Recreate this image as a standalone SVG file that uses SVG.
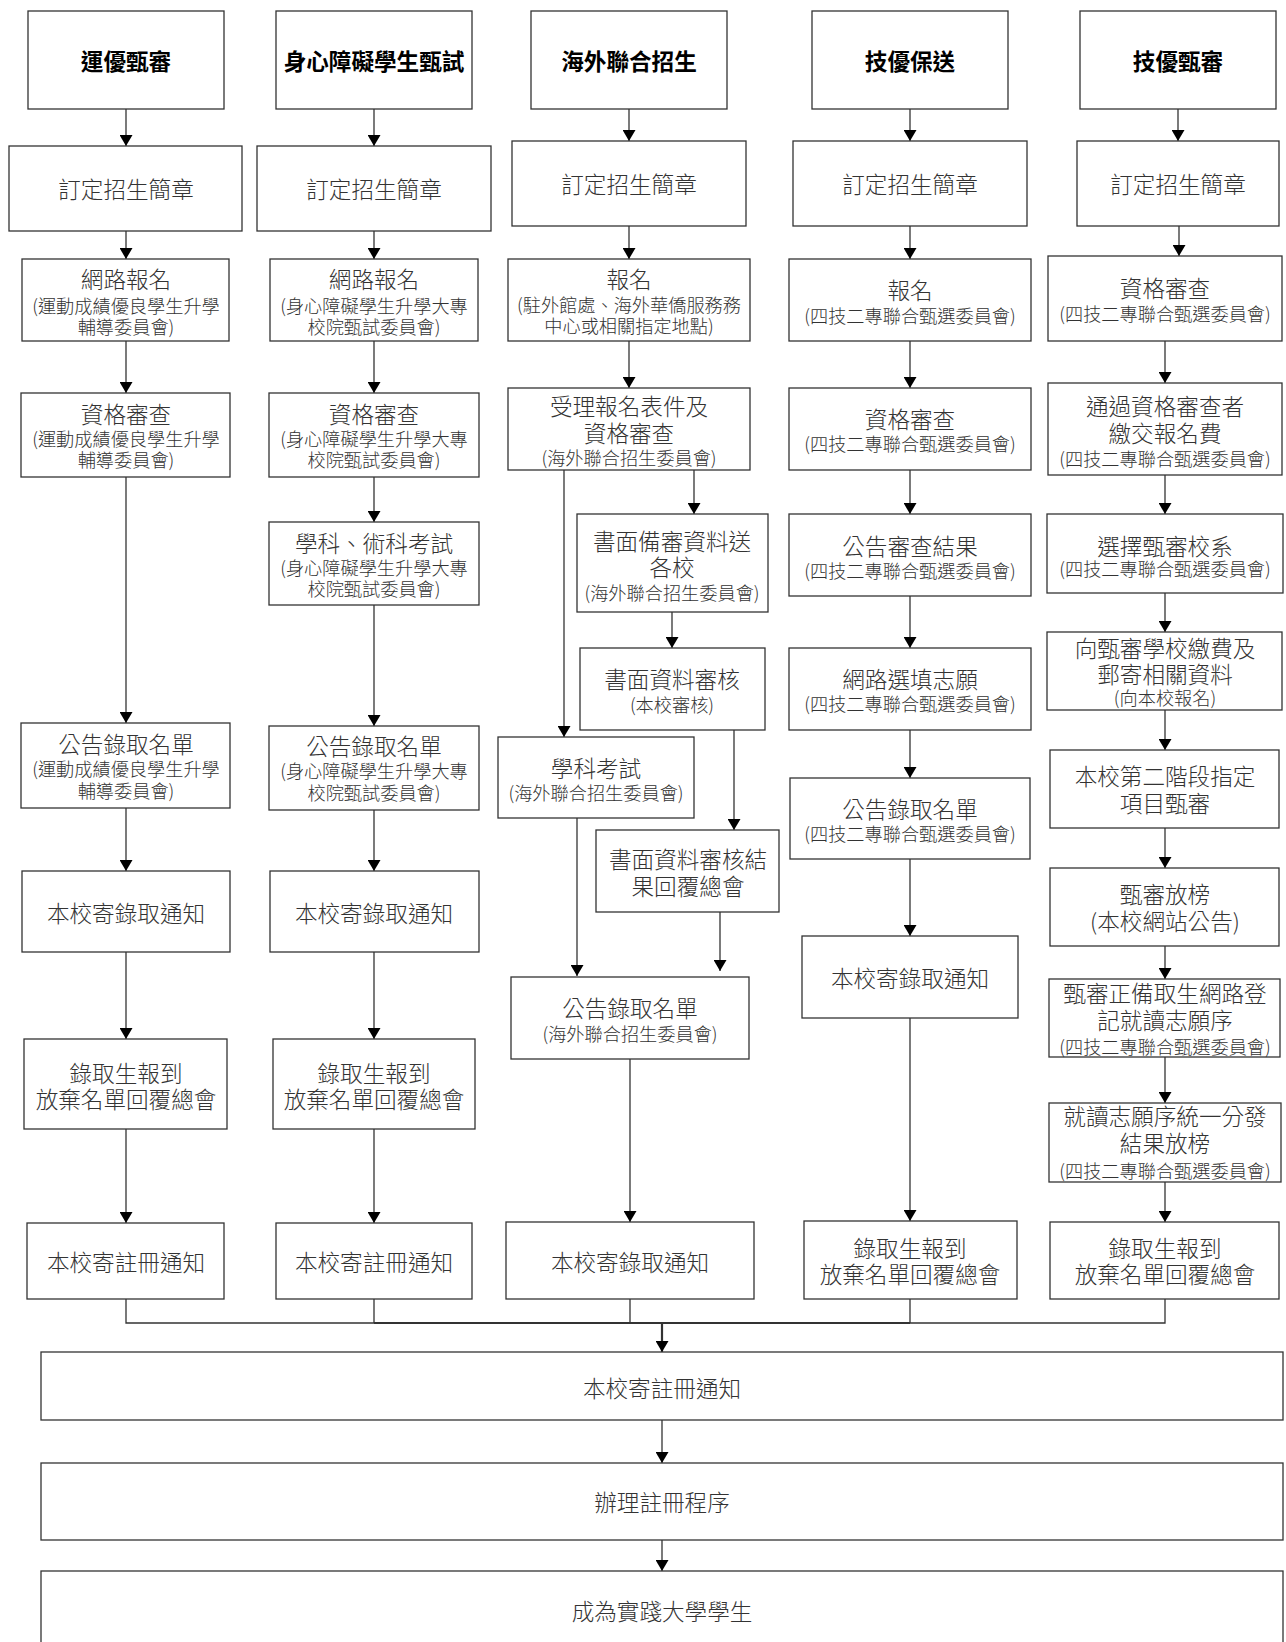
<svg xmlns="http://www.w3.org/2000/svg" width="1286" height="1642" viewBox="0 0 1286 1642">
  <style>
    .box { fill: #fff; stroke: #333; stroke-width: 1.3; }
    .t { font-family: "Noto Sans CJK TC", "Noto Sans CJK SC", sans-serif; font-size: 22.6px; font-weight: 300; fill: #333; text-anchor: middle; dominant-baseline: central; }
    .s { font-size: 18.2px; }
    .h { font-weight: bold; fill: #000; }
    .ln { fill: none; stroke: #333; stroke-width: 1.3; }
    .thk { stroke-width: 2.2; }
  </style>
  <defs>
    <marker id="arr" markerUnits="userSpaceOnUse" viewBox="0 0 11 13" refX="11" refY="6.5" markerWidth="11" markerHeight="13" orient="auto">
      <path d="M0,0 L11,6.5 L0,13 z" fill="#000"/>
    </marker>
  </defs>

  <rect width="1286" height="1642" fill="#fff"/>

  <!-- connectors -->
  <g id="connectors">
    <!-- column 1 -->
    <path class="ln" marker-end="url(#arr)" d="M126,109 V146"/>
    <path class="ln" marker-end="url(#arr)" d="M126,231 V259"/>
    <path class="ln" marker-end="url(#arr)" d="M126,341 V393"/>
    <path class="ln" marker-end="url(#arr)" d="M126,477 V723"/>
    <path class="ln" marker-end="url(#arr)" d="M126,808 V871"/>
    <path class="ln" marker-end="url(#arr)" d="M126,952 V1039"/>
    <path class="ln" marker-end="url(#arr)" d="M126,1129 V1223"/>
    <!-- column 2 -->
    <path class="ln" marker-end="url(#arr)" d="M374,109 V146"/>
    <path class="ln" marker-end="url(#arr)" d="M374,231 V259"/>
    <path class="ln" marker-end="url(#arr)" d="M374,341 V393"/>
    <path class="ln" marker-end="url(#arr)" d="M374,477 V522"/>
    <path class="ln" marker-end="url(#arr)" d="M374,605 V726"/>
    <path class="ln" marker-end="url(#arr)" d="M374,810 V871"/>
    <path class="ln" marker-end="url(#arr)" d="M374,952 V1039"/>
    <path class="ln" marker-end="url(#arr)" d="M374,1129 V1223"/>
    <!-- column 3 -->
    <path class="ln" marker-end="url(#arr)" d="M629,109 V141"/>
    <path class="ln" marker-end="url(#arr)" d="M629,226 V259"/>
    <path class="ln" marker-end="url(#arr)" d="M629,341 V388"/>
    <path class="ln" marker-end="url(#arr)" d="M564,470 V737"/>
    <path class="ln" marker-end="url(#arr)" d="M694,470 V514"/>
    <path class="ln" marker-end="url(#arr)" d="M672,612 V648"/>
    <path class="ln" marker-end="url(#arr)" d="M734,730 V830"/>
    <path class="ln" marker-end="url(#arr)" d="M577,818 V976"/>
    <path class="ln" marker-end="url(#arr)" d="M720,912 V971"/>
    <path class="ln" marker-end="url(#arr)" d="M630,1059 V1222"/>
    <!-- column 4 -->
    <path class="ln" marker-end="url(#arr)" d="M910,109 V141"/>
    <path class="ln" marker-end="url(#arr)" d="M910,226 V259"/>
    <path class="ln" marker-end="url(#arr)" d="M910,341 V388"/>
    <path class="ln" marker-end="url(#arr)" d="M910,470 V514"/>
    <path class="ln" marker-end="url(#arr)" d="M910,596 V648"/>
    <path class="ln" marker-end="url(#arr)" d="M910,730 V778"/>
    <path class="ln" marker-end="url(#arr)" d="M910,859 V936"/>
    <path class="ln" marker-end="url(#arr)" d="M910,1018 V1221"/>
    <!-- column 5 -->
    <path class="ln" marker-end="url(#arr)" d="M1178,109 V141"/>
    <path class="ln" marker-end="url(#arr)" d="M1179,226 V256"/>
    <path class="ln" marker-end="url(#arr)" d="M1165,341 V383"/>
    <path class="ln" marker-end="url(#arr)" d="M1165,475 V514"/>
    <path class="ln" marker-end="url(#arr)" d="M1165,593 V632"/>
    <path class="ln" marker-end="url(#arr)" d="M1165,710 V750"/>
    <path class="ln" marker-end="url(#arr)" d="M1165,828 V868"/>
    <path class="ln" marker-end="url(#arr)" d="M1165,946 V979"/>
    <path class="ln" marker-end="url(#arr)" d="M1165,1057 V1103"/>
    <path class="ln" marker-end="url(#arr)" d="M1165,1182 V1222"/>
    <!-- merge of the five columns -->
    <path class="ln" d="M126,1299 V1323 H1165 V1299"/>
    <path class="ln" d="M374,1299 V1323 M630,1299 V1323 M910,1299 V1323"/>
    <path class="ln thk" d="M374,1323 H910"/>
    <path class="ln thk" marker-end="url(#arr)" d="M662,1323 V1352"/>
    <path class="ln" marker-end="url(#arr)" d="M662,1420 V1463"/>
    <path class="ln" marker-end="url(#arr)" d="M662,1540 V1571"/>
  </g>

  <!-- column 1: 運優甄審 -->
  <g id="c1-title"><rect class="box" x="28" y="11" width="196" height="98"/><text class="t h" x="126" y="60">運優甄審</text></g>
  <g id="c1-rules"><rect class="box" x="9" y="146" width="233" height="85"/><text class="t" x="126" y="188">訂定招生簡章</text></g>
  <g id="c1-apply"><rect class="box" x="22" y="259" width="207" height="82"/>
    <text class="t"><tspan x="126" y="278">網路報名</tspan><tspan class="s" x="126" y="305">(運動成績優良學生升學</tspan><tspan class="s" x="126" y="326">輔導委員會)</tspan></text></g>
  <g id="c1-check"><rect class="box" x="21" y="393" width="209" height="84"/>
    <text class="t"><tspan x="126" y="413">資格審查</tspan><tspan class="s" x="126" y="438">(運動成績優良學生升學</tspan><tspan class="s" x="126" y="459">輔導委員會)</tspan></text></g>
  <g id="c1-list"><rect class="box" x="21" y="723" width="209" height="85"/>
    <text class="t"><tspan x="126" y="743">公告錄取名單</tspan><tspan class="s" x="126" y="768">(運動成績優良學生升學</tspan><tspan class="s" x="126" y="790">輔導委員會)</tspan></text></g>
  <g id="c1-notice"><rect class="box" x="22" y="871" width="208" height="81"/><text class="t" x="126" y="912">本校寄錄取通知</text></g>
  <g id="c1-report"><rect class="box" x="24" y="1039" width="203" height="90"/>
    <text class="t"><tspan x="126" y="1072">錄取生報到</tspan><tspan x="126" y="1098">放棄名單回覆總會</tspan></text></g>
  <g id="c1-register"><rect class="box" x="27" y="1223" width="197" height="76"/><text class="t" x="126" y="1261">本校寄註冊通知</text></g>

  <!-- column 2: 身心障礙學生甄試 -->
  <g id="c2-title"><rect class="box" x="276" y="11" width="196" height="98"/><text class="t h" x="374" y="60">身心障礙學生甄試</text></g>
  <g id="c2-rules"><rect class="box" x="257" y="146" width="234" height="85"/><text class="t" x="374" y="188">訂定招生簡章</text></g>
  <g id="c2-apply"><rect class="box" x="270" y="259" width="208" height="82"/>
    <text class="t"><tspan x="374" y="278">網路報名</tspan><tspan class="s" x="374" y="305">(身心障礙學生升學大專</tspan><tspan class="s" x="374" y="326">校院甄試委員會)</tspan></text></g>
  <g id="c2-check"><rect class="box" x="269" y="393" width="210" height="84"/>
    <text class="t"><tspan x="374" y="413">資格審查</tspan><tspan class="s" x="374" y="438">(身心障礙學生升學大專</tspan><tspan class="s" x="374" y="459">校院甄試委員會)</tspan></text></g>
  <g id="c2-exam"><rect class="box" x="269" y="522" width="210" height="83"/>
    <text class="t"><tspan x="374" y="542">學科、術科考試</tspan><tspan class="s" x="374" y="567">(身心障礙學生升學大專</tspan><tspan class="s" x="374" y="588">校院甄試委員會)</tspan></text></g>
  <g id="c2-list"><rect class="box" x="269" y="726" width="210" height="84"/>
    <text class="t"><tspan x="374" y="745">公告錄取名單</tspan><tspan class="s" x="374" y="770">(身心障礙學生升學大專</tspan><tspan class="s" x="374" y="792">校院甄試委員會)</tspan></text></g>
  <g id="c2-notice"><rect class="box" x="270" y="871" width="209" height="81"/><text class="t" x="374" y="912">本校寄錄取通知</text></g>
  <g id="c2-report"><rect class="box" x="273" y="1039" width="202" height="90"/>
    <text class="t"><tspan x="374" y="1072">錄取生報到</tspan><tspan x="374" y="1098">放棄名單回覆總會</tspan></text></g>
  <g id="c2-register"><rect class="box" x="276" y="1223" width="196" height="76"/><text class="t" x="374" y="1261">本校寄註冊通知</text></g>

  <!-- column 3: 海外聯合招生 -->
  <g id="c3-title"><rect class="box" x="531" y="11" width="196" height="98"/><text class="t h" x="629" y="60">海外聯合招生</text></g>
  <g id="c3-rules"><rect class="box" x="512" y="141" width="234" height="85"/><text class="t" x="629" y="183">訂定招生簡章</text></g>
  <g id="c3-apply"><rect class="box" x="508" y="259" width="242" height="82"/>
    <text class="t"><tspan x="629" y="278">報名</tspan><tspan class="s" x="629" y="304">(駐外館處、海外華僑服務務</tspan><tspan class="s" x="629" y="325">中心或相關指定地點)</tspan></text></g>
  <g id="c3-accept"><rect class="box" x="508" y="388" width="242" height="82"/>
    <text class="t"><tspan x="629" y="405">受理報名表件及</tspan><tspan x="629" y="432">資格審查</tspan><tspan class="s" x="629" y="457">(海外聯合招生委員會)</tspan></text></g>
  <g id="c3-send"><rect class="box" x="577" y="514" width="191" height="98"/>
    <text class="t"><tspan x="672" y="540">書面備審資料送</tspan><tspan x="672" y="566">各校</tspan><tspan class="s" x="672" y="592">(海外聯合招生委員會)</tspan></text></g>
  <g id="c3-review"><rect class="box" x="580" y="648" width="185" height="82"/>
    <text class="t"><tspan x="672" y="678">書面資料審核</tspan><tspan class="s" x="672" y="704">(本校審核)</tspan></text></g>
  <g id="c3-exam"><rect class="box" x="498" y="737" width="196" height="81"/>
    <text class="t"><tspan x="596" y="767">學科考試</tspan><tspan class="s" x="596" y="792">(海外聯合招生委員會)</tspan></text></g>
  <g id="c3-result"><rect class="box" x="596" y="830" width="183" height="82"/>
    <text class="t"><tspan x="688" y="858">書面資料審核結</tspan><tspan x="688" y="885">果回覆總會</tspan></text></g>
  <g id="c3-list"><rect class="box" x="511" y="977" width="238" height="82"/>
    <text class="t"><tspan x="630" y="1007">公告錄取名單</tspan><tspan class="s" x="630" y="1033">(海外聯合招生委員會)</tspan></text></g>
  <g id="c3-notice"><rect class="box" x="506" y="1222" width="248" height="77"/><text class="t" x="630" y="1261">本校寄錄取通知</text></g>

  <!-- column 4: 技優保送 -->
  <g id="c4-title"><rect class="box" x="812" y="11" width="196" height="98"/><text class="t h" x="910" y="60">技優保送</text></g>
  <g id="c4-rules"><rect class="box" x="793" y="141" width="234" height="85"/><text class="t" x="910" y="183">訂定招生簡章</text></g>
  <g id="c4-apply"><rect class="box" x="789" y="259" width="242" height="82"/>
    <text class="t"><tspan x="910" y="289">報名</tspan><tspan class="s" x="910" y="315">(四技二專聯合甄選委員會)</tspan></text></g>
  <g id="c4-check"><rect class="box" x="789" y="388" width="242" height="82"/>
    <text class="t"><tspan x="910" y="418">資格審查</tspan><tspan class="s" x="910" y="443">(四技二專聯合甄選委員會)</tspan></text></g>
  <g id="c4-announce"><rect class="box" x="789" y="514" width="242" height="82"/>
    <text class="t"><tspan x="910" y="545">公告審查結果</tspan><tspan class="s" x="910" y="570">(四技二專聯合甄選委員會)</tspan></text></g>
  <g id="c4-choose"><rect class="box" x="789" y="648" width="242" height="82"/>
    <text class="t"><tspan x="910" y="678">網路選填志願</tspan><tspan class="s" x="910" y="703">(四技二專聯合甄選委員會)</tspan></text></g>
  <g id="c4-list"><rect class="box" x="790" y="778" width="240" height="81"/>
    <text class="t"><tspan x="910" y="808">公告錄取名單</tspan><tspan class="s" x="910" y="833">(四技二專聯合甄選委員會)</tspan></text></g>
  <g id="c4-notice"><rect class="box" x="802" y="936" width="216" height="82"/><text class="t" x="910" y="977">本校寄錄取通知</text></g>
  <g id="c4-report"><rect class="box" x="804" y="1221" width="213" height="78"/>
    <text class="t"><tspan x="910" y="1247">錄取生報到</tspan><tspan x="910" y="1273">放棄名單回覆總會</tspan></text></g>

  <!-- column 5: 技優甄審 -->
  <g id="c5-title"><rect class="box" x="1080" y="11" width="196" height="98"/><text class="t h" x="1178" y="60">技優甄審</text></g>
  <g id="c5-rules"><rect class="box" x="1077" y="141" width="202" height="85"/><text class="t" x="1178" y="183">訂定招生簡章</text></g>
  <g id="c5-check"><rect class="box" x="1048" y="256" width="234" height="85"/>
    <text class="t"><tspan x="1165" y="287">資格審查</tspan><tspan class="s" x="1165" y="313">(四技二專聯合甄選委員會)</tspan></text></g>
  <g id="c5-fee"><rect class="box" x="1048" y="383" width="234" height="92"/>
    <text class="t"><tspan x="1165" y="405">通過資格審查者</tspan><tspan x="1165" y="432">繳交報名費</tspan><tspan class="s" x="1165" y="458">(四技二專聯合甄選委員會)</tspan></text></g>
  <g id="c5-choose"><rect class="box" x="1047" y="514" width="236" height="79"/>
    <text class="t"><tspan x="1165" y="545">選擇甄審校系</tspan><tspan class="s" x="1165" y="568">(四技二專聯合甄選委員會)</tspan></text></g>
  <g id="c5-pay"><rect class="box" x="1047" y="632" width="235" height="78"/>
    <text class="t"><tspan x="1165" y="647">向甄審學校繳費及</tspan><tspan x="1165" y="673">郵寄相關資料</tspan><tspan class="s" x="1165" y="697">(向本校報名)</tspan></text></g>
  <g id="c5-stage2"><rect class="box" x="1050" y="750" width="229" height="78"/>
    <text class="t"><tspan x="1165" y="775">本校第二階段指定</tspan><tspan x="1165" y="802">項目甄審</tspan></text></g>
  <g id="c5-result"><rect class="box" x="1050" y="868" width="229" height="78"/>
    <text class="t"><tspan x="1165" y="893">甄審放榜</tspan><tspan x="1165" y="920">(本校網站公告)</tspan></text></g>
  <g id="c5-order"><rect class="box" x="1049" y="979" width="231" height="78"/>
    <text class="t"><tspan x="1165" y="992">甄審正備取生網路登</tspan><tspan x="1165" y="1019">記就讀志願序</tspan><tspan class="s" x="1165" y="1046">(四技二專聯合甄選委員會)</tspan></text></g>
  <g id="c5-assign"><rect class="box" x="1049" y="1103" width="232" height="79"/>
    <text class="t"><tspan x="1165" y="1115">就讀志願序統一分發</tspan><tspan x="1165" y="1142">結果放榜</tspan><tspan class="s" x="1165" y="1170">(四技二專聯合甄選委員會)</tspan></text></g>
  <g id="c5-report"><rect class="box" x="1050" y="1222" width="229" height="77"/>
    <text class="t"><tspan x="1165" y="1247">錄取生報到</tspan><tspan x="1165" y="1273">放棄名單回覆總會</tspan></text></g>

  <!-- shared final steps -->
  <g id="final-register"><rect class="box" x="41" y="1352" width="1242" height="68"/><text class="t" x="662" y="1387">本校寄註冊通知</text></g>
  <g id="final-process"><rect class="box" x="41" y="1463" width="1242" height="77"/><text class="t" x="662" y="1501">辦理註冊程序</text></g>
  <g id="final-student"><rect class="box" x="41" y="1571" width="1242" height="90"/><text class="t" x="662" y="1610">成為實踐大學學生</text></g>
</svg>
